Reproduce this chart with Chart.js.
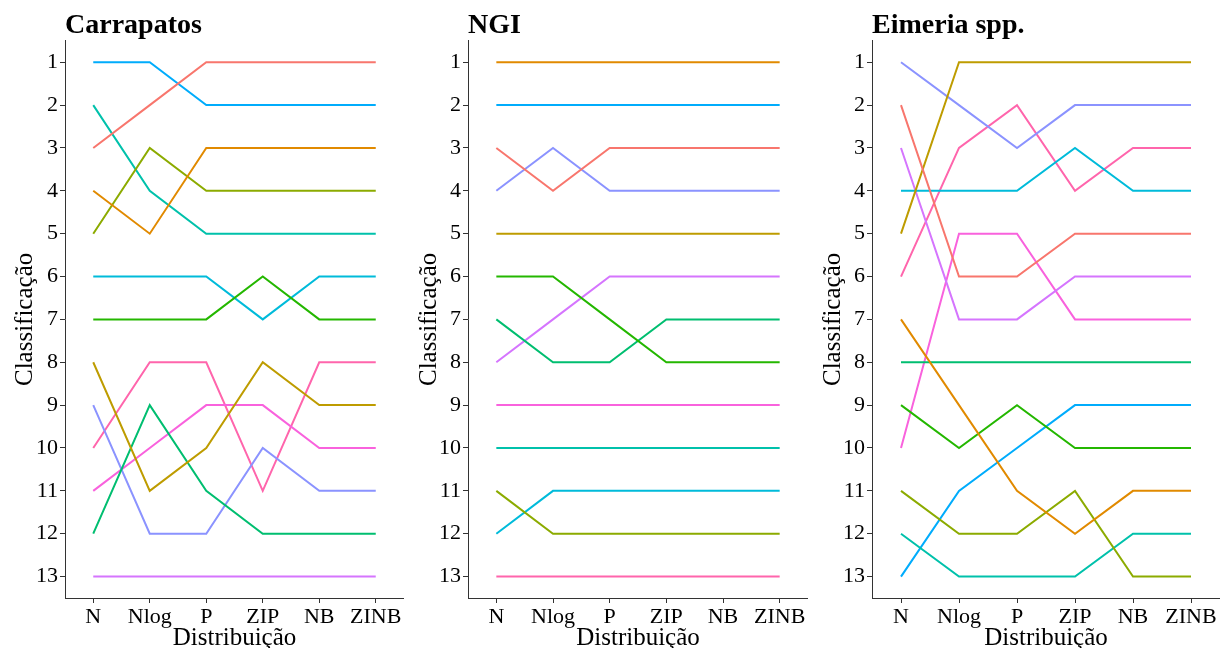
<!DOCTYPE html>
<html>
<head>
<meta charset="utf-8">
<script src="https://cdn.jsdelivr.net/npm/chart.js@4.4.1/dist/chart.umd.min.js"></script>
<style>
  html, body { margin: 0; padding: 0; background: #fff; }
  #wrap { position: relative; width: 1220px; height: 648px; }
  canvas { position: absolute; top: 0; }
</style>
</head>
<body>
<div id="wrap">
  <canvas id="carrapatos" width="404" height="648" style="left:0px"></canvas>
  <canvas id="ngi" width="404" height="648" style="left:404px"></canvas>
  <canvas id="eimeria" width="412" height="648" style="left:808px"></canvas>
</div>
<script>
const distribuicoes = ["N", "Nlog", "P", "ZIP", "NB", "ZINB"];
const classificacoes = [1, 2, 3, 4, 5, 6, 7, 8, 9, 10, 11, 12, 13];

// ggplot default hue palette, 13 levels
const cores = ["#F8766D", "#E18A00", "#BE9C00", "#8CAB00", "#24B700", "#00BE70", "#00C1AB",
               "#00BBDA", "#00ACFC", "#8B93FF", "#D575FE", "#F962DD", "#FF65AC"];

// one row per colour (same order as cores), one value per distribuição
const carrapatos = [
  [3, 2, 1, 1, 1, 1],
  [4, 5, 3, 3, 3, 3],
  [8, 11, 10, 8, 9, 9],
  [5, 3, 4, 4, 4, 4],
  [7, 7, 7, 6, 7, 7],
  [12, 9, 11, 12, 12, 12],
  [2, 4, 5, 5, 5, 5],
  [6, 6, 6, 7, 6, 6],
  [1, 1, 2, 2, 2, 2],
  [9, 12, 12, 10, 11, 11],
  [13, 13, 13, 13, 13, 13],
  [11, 10, 9, 9, 10, 10],
  [10, 8, 8, 11, 8, 8],
];

const ngi = [
  [3, 4, 3, 3, 3, 3],
  [1, 1, 1, 1, 1, 1],
  [5, 5, 5, 5, 5, 5],
  [11, 12, 12, 12, 12, 12],
  [6, 6, 7, 8, 8, 8],
  [7, 8, 8, 7, 7, 7],
  [10, 10, 10, 10, 10, 10],
  [12, 11, 11, 11, 11, 11],
  [2, 2, 2, 2, 2, 2],
  [4, 3, 4, 4, 4, 4],
  [8, 7, 6, 6, 6, 6],
  [9, 9, 9, 9, 9, 9],
  [13, 13, 13, 13, 13, 13],
];

const eimeria = [
  [2, 6, 6, 5, 5, 5],
  [7, 9, 11, 12, 11, 11],
  [5, 1, 1, 1, 1, 1],
  [11, 12, 12, 11, 13, 13],
  [9, 10, 9, 10, 10, 10],
  [8, 8, 8, 8, 8, 8],
  [12, 13, 13, 13, 12, 12],
  [4, 4, 4, 3, 4, 4],
  [13, 11, 10, 9, 9, 9],
  [1, 2, 3, 2, 2, 2],
  [3, 7, 7, 6, 6, 6],
  [10, 5, 5, 7, 7, 7],
  [6, 3, 2, 4, 3, 3],
];

const serif = "'Liberation Serif', 'Times New Roman', serif";
const corEixo = "#333333";

function painel(id, titulo, series, esquerda) {
  const ctx = document.getElementById(id).getContext("2d");
  return new Chart(ctx, {
    type: "line",
    data: {
      labels: distribuicoes,
      datasets: series.map((valores, i) => ({
        label: "grupo " + (i + 1),
        data: valores,
        borderColor: cores[i],
        borderWidth: 2,
        pointRadius: 0,
        fill: false,
        tension: 0,
      })),
    },
    options: {
      responsive: false,
      animation: false,
      layout: { padding: 0 },
      plugins: {
        legend: { display: false },
        tooltip: { enabled: false },
        title: {
          display: true,
          text: titulo,
          align: "start",
          fullSize: false,
          color: "#000",
          font: { family: serif, size: 28, weight: "bold", lineHeight: 1.1 },
          padding: { top: 10, bottom: 0 },
        },
      },
      scales: {
        x: {
          type: "category",
          offset: true,
          grid: { display: true, drawOnChartArea: false, offset: false, tickLength: 5, color: corEixo },
          border: { display: true, color: corEixo, width: 1 },
          ticks: { color: "#000", font: { family: serif, size: 22 }, padding: 1, maxRotation: 0 },
          title: {
            display: true,
            text: "Distribuição",
            color: "#000",
            font: { family: serif, size: 25, lineHeight: 0.8 },
            padding: 0,
          },
          afterFit: (s) => { s.height = 50; },
        },
        y: {
          type: "linear",
          reverse: true,
          min: 0.5,
          max: 13.5,
          afterBuildTicks: (s) => { s.ticks = classificacoes.map((v) => ({ value: v })); },
          grid: { display: true, drawOnChartArea: false, tickLength: 5, color: corEixo },
          border: { display: true, color: corEixo, width: 1 },
          ticks: { color: "#000", font: { family: serif, size: 22 }, padding: 2 },
          title: {
            display: true,
            text: "Classificação",
            color: "#000",
            font: { family: serif, size: 25, lineHeight: 1.2 },
            padding: { top: 10, bottom: 0 },
          },
          afterFit: (s) => { s.width = esquerda; },
        },
      },
    },
  });
}

painel("carrapatos", "Carrapatos", carrapatos, 65);
painel("ngi", "NGI", ngi, 64);
painel("eimeria", "Eimeria spp.", eimeria, 64);
</script>
</body>
</html>
